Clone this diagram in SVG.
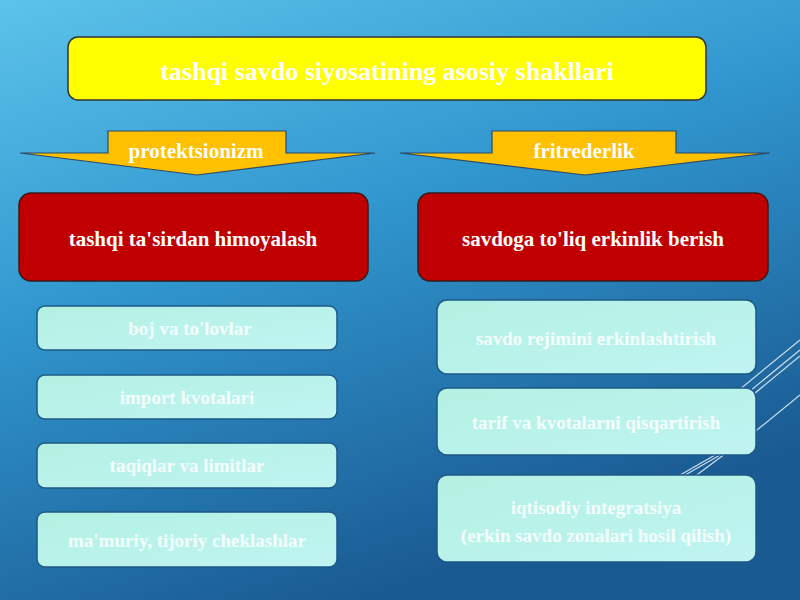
<svg xmlns="http://www.w3.org/2000/svg" width="800" height="600" viewBox="0 0 800 600">
<defs>
<linearGradient id="bg" x1="0" y1="0" x2="0.45" y2="1">
<stop offset="0" stop-color="#5cc3ea"/>
<stop offset="0.45" stop-color="#3197cf"/>
<stop offset="1" stop-color="#1a5a92"/>
</linearGradient>
<linearGradient id="lb" x1="0" y1="0" x2="1" y2="1">
<stop offset="0" stop-color="#b3f1e2"/>
<stop offset="1" stop-color="#c0f4f2"/>
</linearGradient>
<style>
.t{font-family:"Liberation Serif","Times New Roman",serif;font-weight:bold;fill:#ffffff;text-anchor:middle}
.lt{fill:#f4fffd}
.lb{fill:url(#lb);stroke:#1d5a86;stroke-width:1.5}
.rd{fill:#c00000;stroke:#3a1a1a;stroke-width:1.5}
.ar{fill:#ffc000;stroke:#2a4a6a;stroke-width:1.2}
.dl{stroke:#e8f6ff;stroke-width:1.2;fill:none;opacity:0.85}
</style>
</defs>
<rect width="800" height="600" fill="url(#bg)"/>
<g id="deco">
<line class="dl" x1="800" y1="340" x2="690" y2="430"/>
<line class="dl" x1="800" y1="350" x2="695" y2="436"/>
<line class="dl" x1="800" y1="356" x2="698" y2="440"/>
<line class="dl" x1="800" y1="395" x2="757" y2="430"/>
<line class="dl" x1="757" y1="430" x2="690" y2="480"/>
<line class="dl" x1="720" y1="455" x2="680" y2="478"/>
<line class="dl" x1="715" y1="455" x2="675" y2="478"/>
</g>
<g id="title">
<rect x="68" y="37" width="638" height="63" rx="10" fill="#ffff00" stroke="#333333" stroke-width="1.5"/>
<text class="t" x="387" y="80" font-size="26">tashqi savdo siyosatining asosiy shakllari</text>
</g>
<g id="connectors">
<g id="arrow-left">
<path class="ar" d="M108,131 H286 V153 H375 L197,175 L20,153 H108 Z"/>
<text class="t" x="196" y="158" font-size="21">protektsionizm</text>
</g>
<g id="arrow-right">
<path class="ar" d="M492,131 H676 V153 H770 L585,175 L400,153 H492 Z"/>
<text class="t" x="584" y="158" font-size="21">fritrederlik</text>
</g>
</g>
<g id="prot">
<rect class="rd" x="19" y="193" width="349" height="88" rx="12"/>
<text class="t" x="193" y="246" font-size="21">tashqi ta'sirdan himoyalash</text>
</g>
<g id="frit">
<rect class="rd" x="418" y="193" width="350" height="88" rx="12"/>
<text class="t" x="593" y="246" font-size="21">savdoga to'liq erkinlik berish</text>
</g>
<g id="l1">
<rect class="lb" x="37" y="306" width="300" height="44" rx="8"/>
<text class="t lt" x="190" y="335" font-size="19">boj va to'lovlar</text>
</g>
<g id="l2">
<rect class="lb" x="37" y="375" width="300" height="44" rx="8"/>
<text class="t lt" x="187" y="404" font-size="19">import kvotalari</text>
</g>
<g id="l3">
<rect class="lb" x="37" y="443" width="300" height="45" rx="8"/>
<text class="t lt" x="187" y="472" font-size="19">taqiqlar va limitlar</text>
</g>
<g id="l4">
<rect class="lb" x="37" y="512" width="300" height="55" rx="8"/>
<text class="t lt" x="187" y="547" font-size="19">ma'muriy, tijoriy cheklashlar</text>
</g>
<g id="r1">
<rect class="lb" x="437" y="300" width="319" height="74" rx="10"/>
<text class="t lt" x="596" y="345" font-size="19">savdo rejimini erkinlashtirish</text>
</g>
<g id="r2">
<rect class="lb" x="437" y="388" width="319" height="67" rx="10"/>
<text class="t lt" x="596" y="429" font-size="19">tarif va kvotalarni qisqartirish</text>
</g>
<g id="r3">
<rect class="lb" x="437" y="475" width="319" height="87" rx="10"/>
<text class="t lt" x="596" y="514" font-size="19">iqtisodiy integratsiya</text>
<text class="t lt" x="596" y="542" font-size="19">(erkin savdo zonalari hosil qilish)</text>
</g>
</svg>
